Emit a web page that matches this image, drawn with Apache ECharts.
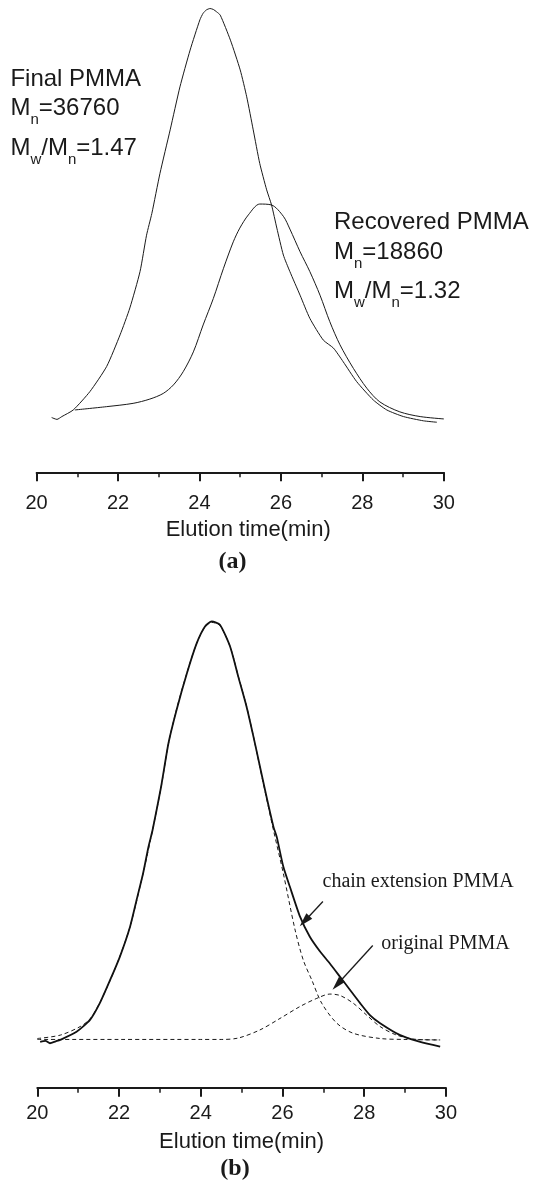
<!DOCTYPE html>
<html>
<head>
<meta charset="utf-8">
<title>GPC traces of PMMA</title>
<script src="https://cdn.jsdelivr.net/npm/echarts@6/dist/echarts.min.js"></script>
<style>
  html, body { margin: 0; padding: 0; background: #fff; }
  #chart { width: 542px; height: 1184px; }
</style>
</head>
<body>
<div id="chart"></div>
<script>
// ---------------- data (signal in arbitrary units) ----------------

// (a) final PMMA trace
const finalTime = [20.37, 20.50, 20.62, 20.90, 21.31, 21.72, 22.05, 22.29, 22.54, 22.70, 22.83, 23.03, 23.28,
  23.52, 23.77, 24.01, 24.09, 24.17, 24.26, 24.34, 24.42, 24.51, 24.76, 25.00, 25.16, 25.32, 25.48, 25.65,
  25.77, 25.90, 26.06, 26.22, 26.47, 26.71, 27.04, 27.29, 27.53, 27.86, 28.27, 28.60, 29.01, 29.50, 29.83];
const finalSignal = [11.6, 11.2, 11.8, 13.2, 17.1, 22.4, 29.1, 34.8, 42.5, 50.2, 54.8, 63.3, 72.5,
  81.6, 89.4, 95.8, 97.2, 97.9, 98.2, 98.0, 97.5, 96.8, 91.5, 85.2, 79.5, 72.5, 65.4, 59.8,
  56.6, 51.7, 46.0, 42.5, 37.5, 32.6, 28.0, 26.3, 23.4, 19.2, 15.3, 13.2, 11.8, 10.9, 10.6];

// (a) recovered PMMA trace
const recTime = [20.94, 21.72, 22.37, 22.78, 23.11, 23.36, 23.60, 23.85, 24.09, 24.34, 24.59, 24.83, 24.99,
  25.20, 25.48, 25.77, 26.06, 26.22, 26.47, 26.71, 26.96, 27.20, 27.45, 27.78, 28.11, 28.43, 28.92, 29.42, 30.00];
const recSignal = [13.2, 13.9, 14.6, 15.5, 16.7, 18.5, 21.3, 25.5, 31.2, 36.8, 43.2, 48.8, 51.7,
  54.5, 56.8, 56.6, 54.2, 51.5, 46.7, 42.5, 37.5, 31.9, 27.0, 22.0, 17.8, 14.9, 12.8, 11.8, 11.3];

// (b) measured trace
const totalTime = [20.07, 20.20, 20.31, 20.45, 20.56, 20.96, 21.29, 21.53, 21.78, 22.02, 22.27, 22.43, 22.59,
  22.72, 22.82, 23.03, 23.21, 23.41, 23.66, 23.90, 24.10, 24.27, 24.47, 24.72, 24.92, 25.12, 25.29, 25.45,
  25.61, 25.78, 25.86, 26.02, 26.18, 26.43, 26.67, 26.92, 27.16, 27.41, 27.65, 27.90, 28.14, 28.39, 28.88,
  29.37, 29.86];
const totalSignal = [9.6, 9.8, 9.3, 9.7, 10.0, 11.7, 14.2, 17.7, 22.5, 27.4, 33.7, 39.3, 44.9,
  50.4, 53.9, 63.0, 72.1, 79.1, 86.7, 93.0, 96.5, 97.6, 96.9, 92.3, 86.0, 79.8, 73.5, 67.2,
  60.9, 54.6, 52.5, 46.3, 42.1, 35.8, 31.6, 28.5, 26.0, 23.2, 20.5, 17.7, 15.2, 13.5, 11.0,
  9.6, 8.6];

// (b) fitted chain extension peak (dashed)
const chainTime = [20.00, 20.56, 21.05, 21.29, 21.53, 21.78, 22.02, 22.27, 22.59, 22.82, 23.03, 23.21, 23.41,
  23.66, 23.90, 24.10, 24.27, 24.47, 24.72, 24.92, 25.12, 25.29, 25.45, 25.61, 25.78, 26.02, 26.31, 26.51,
  26.72, 26.96, 27.33, 27.73, 28.39, 29.00, 29.86];
const chainSignal = [10.3, 11.0, 12.8, 14.4, 17.8, 22.4, 27.5, 33.7, 44.9, 53.9, 62.9, 72.0, 79.3,
  86.8, 93.0, 96.4, 97.4, 96.7, 92.3, 86.1, 79.9, 73.5, 67.0, 60.6, 53.9, 44.9, 33.0, 26.7,
  22.5, 17.7, 13.5, 11.4, 10.3, 10.1, 10.0];

// (b) fitted original PMMA peak (dashed)
const origTime = [20.00, 22.00, 24.00, 24.50, 24.92, 25.45, 25.94, 26.43, 26.84, 27.16, 27.41, 27.73, 28.06,
  28.39, 28.80, 29.29, 29.79];
const origSignal = [10.1, 10.1, 10.1, 10.1, 10.4, 12.1, 14.5, 17.0, 18.7, 19.6, 19.3, 17.7, 15.2,
  12.8, 11.0, 10.1, 10.0];

// (b) annotation arrows, [from, to] in (time, signal)
const chainArrow = [[26.99, 38.98], [26.54, 34.85]];
const origArrow = [[28.21, 29.77], [27.34, 21.60]];

const timeTicks = { min: 20, max: 30, interval: 2 };

// ---------------- helpers ----------------

const SANS = "'Liberation Sans', Arial, Helvetica, sans-serif";
const SERIF = "'Liberation Serif', 'Times New Roman', serif";
const INK = "#1a1a1a";

function pairs(xs, ys) {
    return xs.map((x, i) => [x, ys[i]]);
}

const measureCtx = document.createElement("canvas").getContext("2d");
function textWidth(s, font) {
    measureCtx.font = font;
    return measureCtx.measureText(s).width;
}

// one line of text where some parts are subscripts: parts = [[text, isSub], ...]
function subLabel(x, y, parts) {
    const out = [];
    let cx = x;
    for (const [s, sub] of parts) {
        const font = sub ? `15px ${SANS}` : `24px ${SANS}`;
        out.push({
            type: "text", silent: true,
            x: cx, y: sub ? y + 12 : y,
            style: { text: s, font, fill: INK, verticalAlign: "middle" },
        });
        cx += textWidth(s, font);
    }
    return out;
}

function plainLabel(x, y, text, font, align = "left") {
    return {
        type: "text", silent: true, x, y,
        style: { text, font, fill: INK, align, verticalAlign: "middle" },
    };
}

function timeAxis(gridIndex, labelMargin, nameGap, nameShift) {
    return {
        type: "value",
        gridIndex,
        ...timeTicks,
        name: "Elution time(min)",
        nameLocation: "middle",
        nameGap,
        nameTextStyle: { fontFamily: SANS, fontSize: 22, color: INK, padding: [0, 0, 0, nameShift] },
        axisLine: { onZero: false, lineStyle: { color: INK, width: 2 } },
        axisTick: { inside: false, length: 9, lineStyle: { color: INK, width: 2 } },
        minorTick: { show: true, splitNumber: 2, length: 5, lineStyle: { color: INK, width: 1.5 } },
        axisLabel: { margin: labelMargin, fontFamily: SANS, fontSize: 20, color: INK },
        splitLine: { show: false },
        minorSplitLine: { show: false },
    };
}

function signalAxis(gridIndex) {
    return { type: "value", gridIndex, min: 0, max: 100, show: false };
}

function trace(name, axis, xs, ys, lineStyle, smooth = 0) {
    return {
        name, type: "line",
        xAxisIndex: axis, yAxisIndex: axis,
        data: pairs(xs, ys),
        showSymbol: false, symbol: "none",
        smooth,
        lineStyle,
        emphasis: { disabled: true },
        silent: true,
        animation: false,
    };
}

function arrow(a) {
    return [{ coord: a[0], symbol: "none" }, { coord: a[1], symbol: "triangle", symbolSize: [8, 14] }];
}

// ---------------- chart ----------------

const chart = echarts.init(document.getElementById("chart"), null, { renderer: "canvas" });

const thin = { color: INK, width: 1 };
const bold = { color: "#111", width: 1.8 };
const dashed = { color: INK, width: 1, type: [4, 3] };

const origSeries = trace("original PMMA", 1, origTime, origSignal, dashed, 0.3);
origSeries.markLine = {
    silent: true,
    animation: false,
    symbol: ["none", "triangle"],
    symbolSize: 10,
    label: { show: false },
    emphasis: { disabled: true },
    lineStyle: { color: INK, width: 1.3, type: "solid" },
    data: [arrow(chainArrow), arrow(origArrow)],
};

chart.setOption({
    backgroundColor: "#fff",
    animation: false,
    grid: [
        { left: 36.6, right: 98.2, top: 0, bottom: 711.7, outerBoundsMode: "none" },
        { left: 37.3, right: 96.1, top: 610, bottom: 96.3, outerBoundsMode: "none" },
    ],
    xAxis: [timeAxis(0, 21, 47, 16), timeAxis(1, 16, 43, 0)],
    yAxis: [signalAxis(0), signalAxis(1)],
    series: [
        trace("Final PMMA", 0, finalTime, finalSignal, thin, 0.2),
        trace("Recovered PMMA", 0, recTime, recSignal, thin, 0.3),
        trace("chain extension PMMA", 1, chainTime, chainSignal, dashed, 0.3),
        origSeries,
        trace("measured", 1, totalTime, totalSignal, bold, 0.2),
    ],
    graphic: [
        plainLabel(10.4, 79.5, "Final PMMA", `24px ${SANS}`),
        ...subLabel(10.4, 108.3, [["M", 0], ["n", 1], ["=36760", 0]]),
        ...subLabel(10.4, 148.3, [["M", 0], ["w", 1], ["/M", 0], ["n", 1], ["=1.47", 0]]),
        plainLabel(334, 222, "Recovered PMMA", `24px ${SANS}`),
        ...subLabel(334, 252, [["M", 0], ["n", 1], ["=18860", 0]]),
        ...subLabel(334, 291, [["M", 0], ["w", 1], ["/M", 0], ["n", 1], ["=1.32", 0]]),
        plainLabel(232.5, 561.7, "(a)", `bold 24px ${SERIF}`, "center"),
        plainLabel(322.5, 881.7, "chain extension PMMA", `20px ${SERIF}`),
        plainLabel(381.3, 943.3, "original PMMA", `20px ${SERIF}`),
        plainLabel(235, 1169.2, "(b)", `bold 24px ${SERIF}`, "center"),
    ],
});
</script>
</body>
</html>
